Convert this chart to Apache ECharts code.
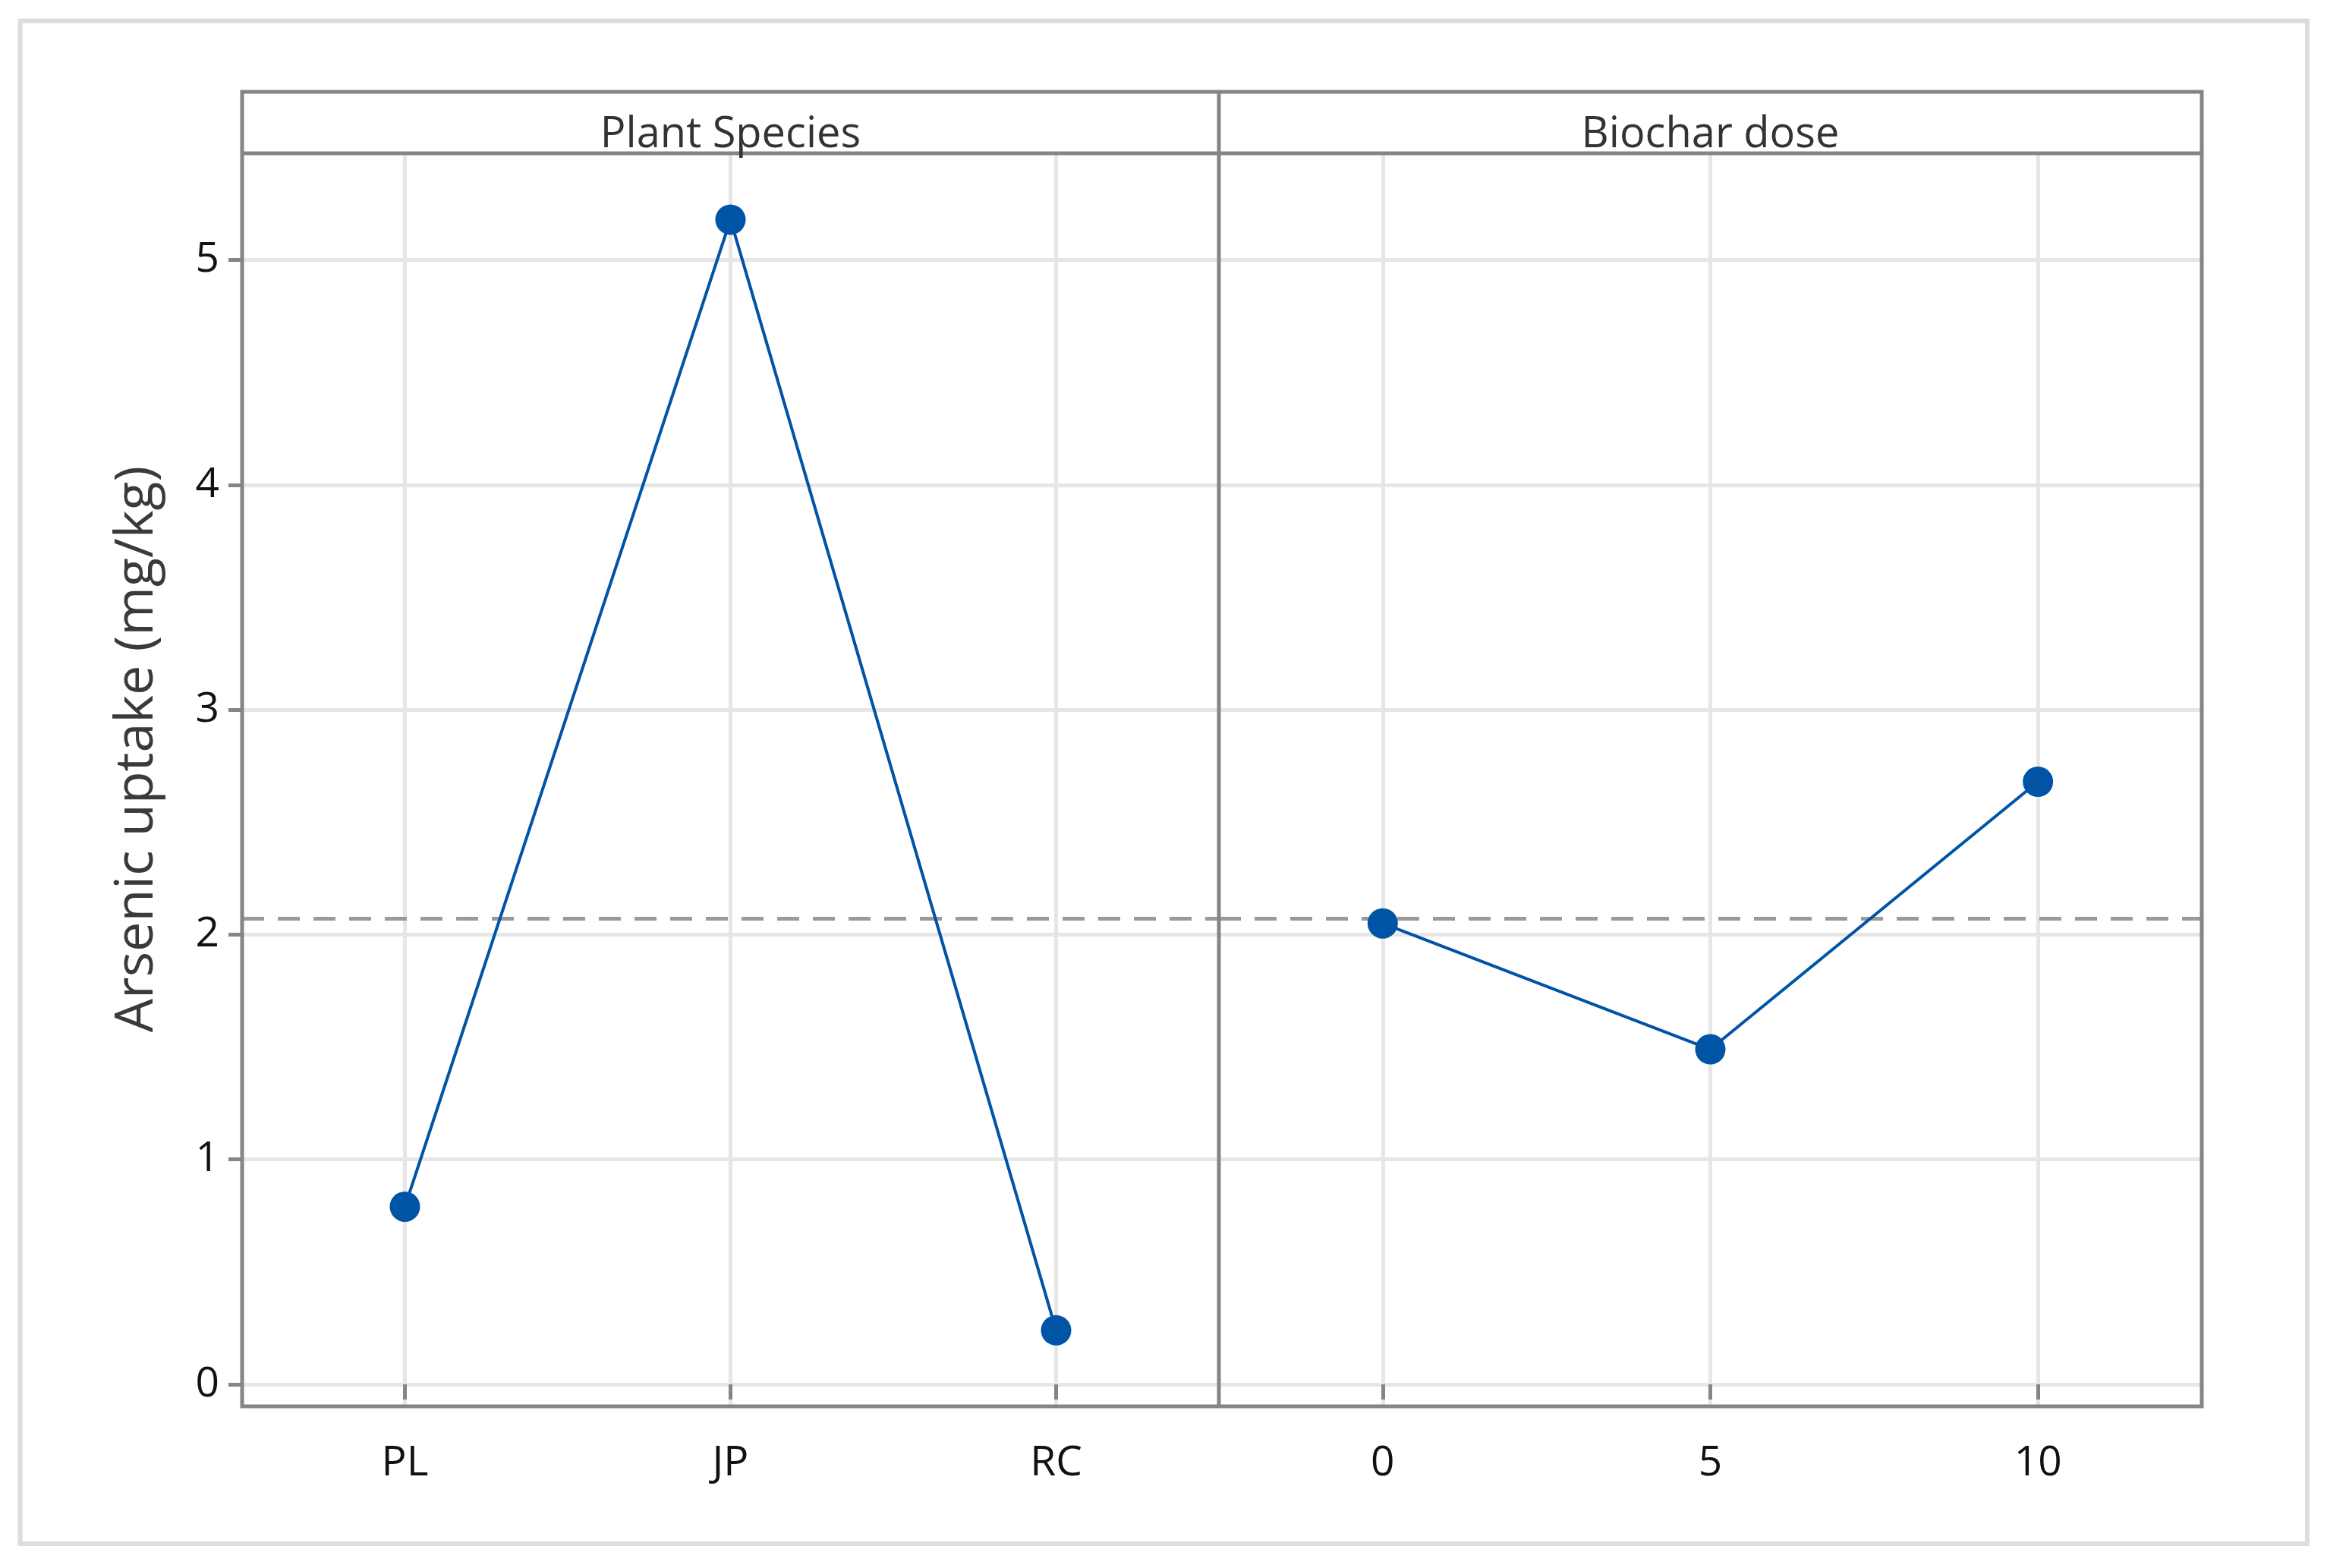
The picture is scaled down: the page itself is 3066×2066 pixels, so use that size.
<!DOCTYPE html>
<html>
<head>
<meta charset="utf-8">
<title>Main effects plot for arsenic uptake</title>
<script src="https://cdn.jsdelivr.net/npm/echarts@6/dist/echarts.min.js"></script>
<style>
  html, body { margin: 0; padding: 0; background: #fff; }
  #chart { width: 3066px; height: 2066px; }
</style>
</head>
<body>
<div id="chart"></div>
<script>
// factor levels and their fitted means
const speciesLevels = ['PL', 'JP', 'RC'];
const speciesMeans = [0.79, 5.18, 0.24];
const doseLevels = ['0', '5', '10'];
const doseMeans = [2.05, 1.49, 2.68];
const grandMean = 2.07;
const yTicks = [0, 1, 2, 3, 4, 5];
const panelTitles = ['Plant Species', 'Biochar dose'];
const yTitle = 'Arsenic uptake (mg/kg)';

const FONT = '"Open Sans", "Noto Sans", sans-serif';
const FRAME = '#858585';
const GRID = '#e6e6e6';
const BLUE = '#0054a5';

// frame layout (px)
const frameLeft = 319, frameRight = 2901, divider = 1606;
const stripTop = 121, plotTop = 202, plotBottom = 1853;

const chart = echarts.init(document.getElementById('chart'));

function xAxisFor(gridIndex, levels) {
  const pos = levels.map((_, i) => i + 1);
  return {
    type: 'value',
    gridIndex,
    min: 0.5,
    max: levels.length + 0.5,
    axisLine: { show: false },
    axisTick: { show: true, customValues: pos, length: 20, lineStyle: { color: FRAME, width: 5 } },
    axisLabel: {
      customValues: pos,
      margin: 48,
      color: '#111',
      fontFamily: FONT,
      fontSize: 55,
      formatter: v => levels[Math.round(v) - 1],
    },
    splitLine: { show: true, lineStyle: { color: GRID, width: 5 } },
  };
}

function yAxisFor(gridIndex, showLabels) {
  return {
    type: 'value',
    gridIndex,
    min: -0.098,
    max: 5.475,
    axisLine: { show: false },
    axisTick: { show: showLabels, customValues: yTicks, length: 18, lineStyle: { color: FRAME, width: 5 } },
    axisLabel: {
      show: showLabels,
      customValues: yTicks,
      margin: 30,
      padding: [10, 0, 0, 0],
      color: '#111',
      fontFamily: FONT,
      fontSize: 55,
    },
    splitLine: { show: true, lineStyle: { color: GRID, width: 5 } },
  };
}

function meanLine() {
  return {
    silent: true,
    z: 1,
    symbol: ['none', 'none'],
    label: { show: false },
    lineStyle: { color: '#9a9a9a', width: 5, type: [29, 18] },
    data: [{ yAxis: grandMean }],
  };
}

function effectSeries(idx, means) {
  return {
    type: 'line',
    xAxisIndex: idx,
    yAxisIndex: idx,
    data: means.map((v, i) => [i + 1, v]),
    symbol: 'circle',
    symbolSize: 40,
    z: 3,
    lineStyle: { color: BLUE, width: 4 },
    itemStyle: { color: BLUE },
    markLine: meanLine(),
  };
}

const option = {
  backgroundColor: '#fff',
  animation: false,
  grid: [
    { left: frameLeft, top: plotTop, width: divider - frameLeft, height: plotBottom - plotTop },
    { left: divider, top: plotTop, width: frameRight - divider, height: plotBottom - plotTop },
  ],
  xAxis: [xAxisFor(0, speciesLevels), xAxisFor(1, doseLevels)],
  yAxis: [yAxisFor(0, true), yAxisFor(1, false)],
  series: [effectSeries(0, speciesMeans), effectSeries(1, doseMeans)],
  graphic: [
    {
      type: 'rect', z: 20, silent: true,
      shape: { x: 26.5, y: 27.5, width: 3013.5, height: 2006.5 },
      style: { fill: 'none', stroke: '#dddddd', lineWidth: 6 },
    },
    {
      type: 'rect', z: 20, silent: true,
      shape: { x: frameLeft, y: stripTop, width: frameRight - frameLeft, height: plotBottom - stripTop },
      style: { fill: 'none', stroke: FRAME, lineWidth: 5 },
    },
    {
      type: 'line', z: 20, silent: true,
      shape: { x1: frameLeft, y1: plotTop, x2: frameRight, y2: plotTop },
      style: { stroke: FRAME, lineWidth: 5 },
    },
    {
      type: 'line', z: 20, silent: true,
      shape: { x1: divider, y1: stripTop, x2: divider, y2: plotBottom },
      style: { stroke: FRAME, lineWidth: 5 },
    },
    {
      type: 'text', z: 20, silent: true,
      x: (frameLeft + divider) / 2, y: 178,
      style: { text: panelTitles[0], textAlign: 'center', textVerticalAlign: 'middle', fontFamily: FONT, fontSize: 56, fill: '#333' },
    },
    {
      type: 'text', z: 20, silent: true,
      x: (divider + frameRight) / 2, y: 178,
      style: { text: panelTitles[1], textAlign: 'center', textVerticalAlign: 'middle', fontFamily: FONT, fontSize: 56, fill: '#333' },
    },
    {
      type: 'text', z: 20, silent: true,
      x: 181, y: (stripTop + plotBottom) / 2,
      rotation: Math.PI / 2,
      style: { text: yTitle, textAlign: 'center', textVerticalAlign: 'middle', fontFamily: FONT, fontSize: 70, fill: '#3a3a3a' },
    },
  ],
};

chart.setOption(option);
</script>
</body>
</html>
